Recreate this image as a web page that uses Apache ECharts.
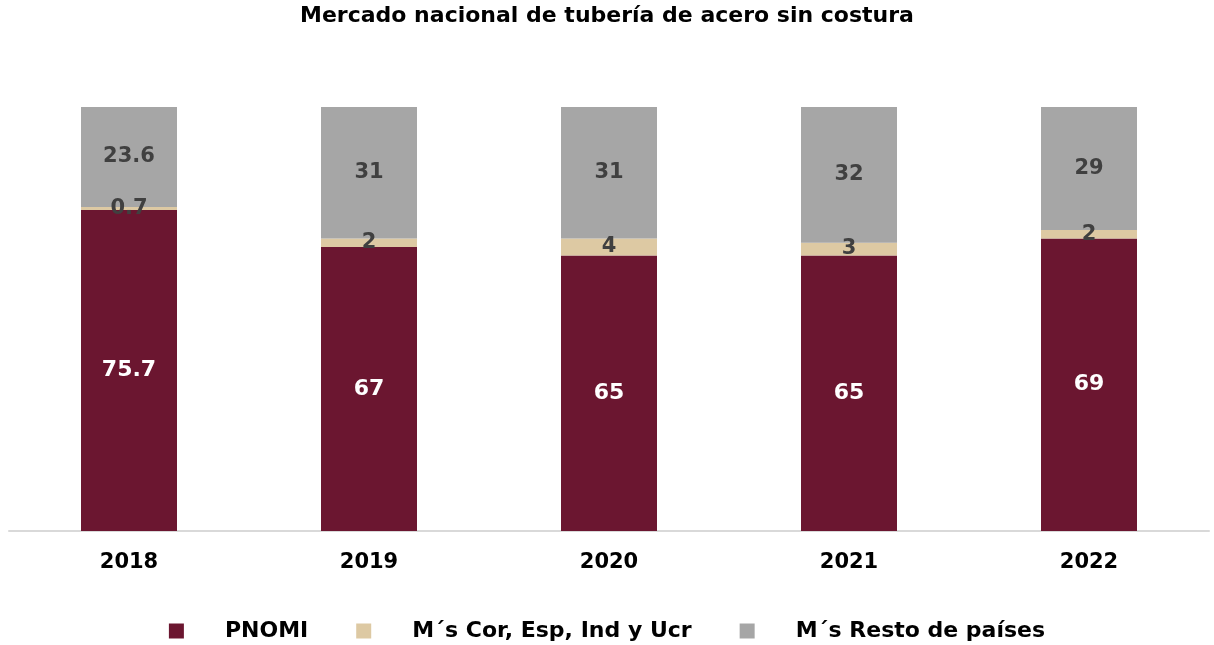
<!DOCTYPE html>
<html>
<head>
<meta charset="utf-8">
<script src="https://cdn.jsdelivr.net/npm/echarts@6/dist/echarts.min.js"></script>
<style>
  html, body { margin: 0; padding: 0; background: #fff; }
  #show { width: 1214px; height: 645px; }
</style>
</head>
<body>
<div id="show"></div>
<script>
// datos
var years = ['2018', '2019', '2020', '2021', '2022'];
var pnomi = [75.7, 67, 65, 65, 69];
var corEspIndUcr = [0.7, 2, 4, 3, 2];
var restoPaises = [23.6, 31, 31, 32, 29];
var seriesNames = ['PNOMI', 'M´s Cor, Esp, Ind y Ucr', 'M´s Resto de países'];

var font = 'DejaVu Sans';
var myChart = echarts.init(document.getElementById('show'));

var option = {
    animation: false,
    title: {
        text: 'Mercado nacional de tubería de acero sin costura',
        left: 'center',
        top: 0,
        textStyle: { fontFamily: font, fontWeight: 'bold', fontSize: 22, color: '#000' }
    },
    legend: {
        left: 'center',
        top: 615,
        itemWidth: 15,
        itemHeight: 15,
        itemGap: 48,
        icon: 'rect',
        data: seriesNames,
        formatter: '{a|{name}}',
        textStyle: {
            fontFamily: font, fontWeight: 'bold', fontSize: 22, color: '#000',
            rich: { a: { fontFamily: font, fontWeight: 'bold', fontSize: 22, color: '#000', padding: [0, 0, 0, 36] } }
        }
    },
    grid: { left: 9, right: 5, top: 107, bottom: 114 },
    xAxis: {
        type: 'category',
        data: years,
        axisTick: { show: false },
        axisLine: { lineStyle: { color: '#d9d9d9', width: 2 } },
        axisLabel: { margin: 21, fontFamily: font, fontWeight: 'bold', fontSize: 21, color: '#000' }
    },
    yAxis: { type: 'value', min: 0, max: 100, show: false, splitLine: { show: false } },
    series: [
        {
            name: seriesNames[0], type: 'bar', stack: 'total', barWidth: '40%',
            data: pnomi,
            itemStyle: { color: '#6b1630' },
            label: { show: true, position: 'inside', fontFamily: font, fontWeight: 'bold', fontSize: 22, color: '#fff' }
        },
        {
            name: seriesNames[1], type: 'bar', stack: 'total',
            data: corEspIndUcr,
            itemStyle: { color: '#ddc9a3' },
            label: { show: true, position: 'inside', fontFamily: font, fontWeight: 'bold', fontSize: 21, color: '#404040' }
        },
        {
            name: seriesNames[2], type: 'bar', stack: 'total',
            data: restoPaises,
            itemStyle: { color: '#a6a6a6' },
            label: { show: true, position: 'inside', fontFamily: font, fontWeight: 'bold', fontSize: 21, color: '#404040' }
        }
    ]
};
myChart.setOption(option);
</script>
</body>
</html>
